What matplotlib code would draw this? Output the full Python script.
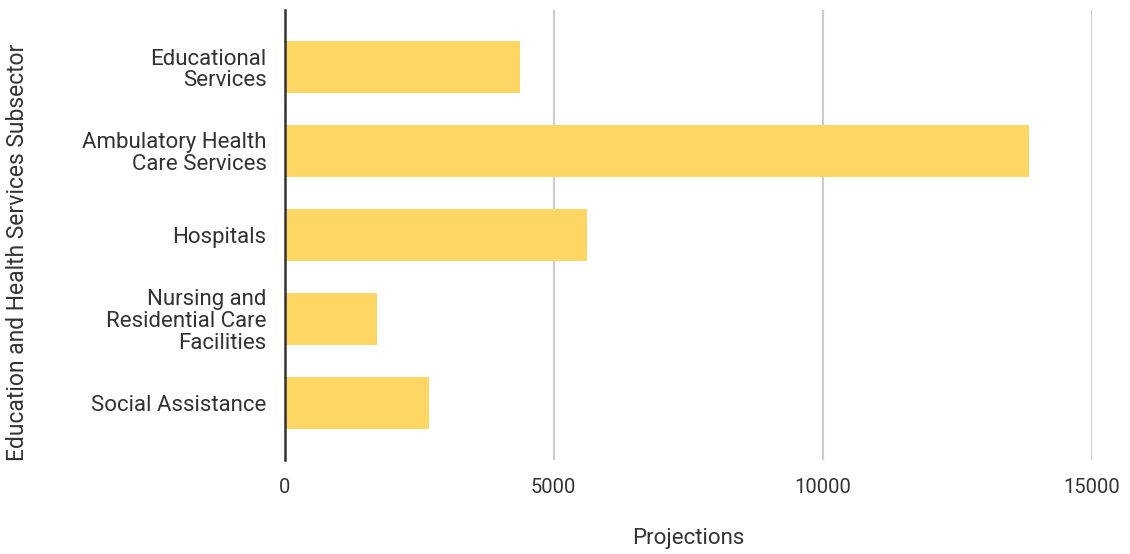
import matplotlib.pyplot as plt

categories = ["Educational\nServices", "Ambulatory Health\nCare Services", "Hospitals",
              "Nursing and\nResidential Care\nFacilities", "Social Assistance"]
projections = [4370, 13830, 5610, 1710, 2690]
x_ticks = [0, 5000, 10000, 15000]

plt.rcParams['font.family'] = ['Roboto', 'DejaVu Sans']

fig = plt.figure(figsize=(11.3, 5.54), dpi=100)
ax = fig.add_axes([0.252, 0.170, 0.714, 0.812])

y = list(range(len(categories)))
ax.barh(y, projections, height=0.62, color='#FDD663', zorder=3)

ax.set_xlim(0, 15000)
ax.set_ylim(4.68, -0.68)
ax.set_xticks(x_ticks)
ax.set_xticklabels([str(t) for t in x_ticks])
ax.set_yticks(y)
ax.set_yticklabels(categories, linespacing=1.05, fontsize=16)

ax.grid(axis='x', color='#cccccc', linewidth=1.5, zorder=0)
for s in ['top', 'right', 'bottom']:
    ax.spines[s].set_visible(False)
ax.spines['left'].set_color('#333333')
ax.spines['left'].set_linewidth(1.8)
ax.spines['left'].set_zorder(4)

ax.tick_params(axis='both', length=0, labelcolor='#333333')
ax.tick_params(axis='x', pad=13, labelsize=14.5)
ax.tick_params(axis='y', pad=13)

ax.set_xlabel("Projections", fontsize=16, color='#333333')
ax.xaxis.set_label_coords(0.5, -0.152)
ax.set_ylabel("Education and Health Services Subsector", fontsize=16.5, color='#333333')
ax.yaxis.set_label_coords(-0.317, 0.462)

fig.savefig("out.png", dpi=100)
